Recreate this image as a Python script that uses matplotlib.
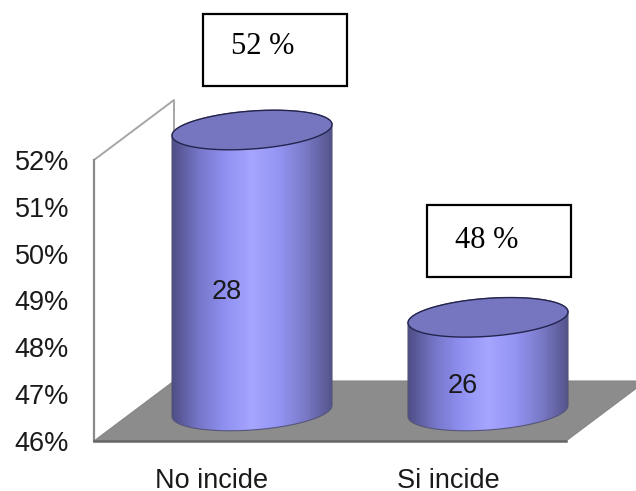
import numpy as np
import matplotlib
matplotlib.use("Agg")
import matplotlib.pyplot as plt
from matplotlib.colors import LinearSegmentedColormap
from matplotlib.patches import Polygon, Rectangle

categories = ["No incide", "Si incide"]
percents = [52, 48]
counts = [28, 26]
y_ticks = [46, 47, 48, 49, 50, 51, 52]

W, H = 636, 491
Y_MIN, Y_MAX = 46, 52

fig = plt.figure(figsize=(W / 100, H / 100), dpi=100, facecolor="white")
ax = fig.add_axes([94 / W, 1 - 441 / H, 472 / W, 281 / H])
ax.set_xlim(-0.5, 1.5)
ax.set_ylim(Y_MIN, Y_MAX)

# px -> data units, the fake 3d is all built from these
ux = 2 / 472
uy = (Y_MAX - Y_MIN) / 281
depth_x = 80 * ux
depth_y = 60 * uy

sans = "Liberation Sans"
serif = "Liberation Serif"

for s in ax.spines.values():
    s.set_visible(False)
ax.patch.set_visible(False)
ax.set_xticks(range(len(categories)), categories, fontfamily=sans, fontsize=19.5)
ax.set_yticks(y_ticks, [f"{t}%" for t in y_ticks], fontfamily=sans, fontsize=19.5)
ax.tick_params(axis="x", length=0, pad=19.5, colors="#1a1a1a")
ax.tick_params(axis="y", length=0, pad=18, colors="#1a1a1a")

# floor
x0, x1 = ax.get_xlim()
floor = [(x0, Y_MIN), (x1, Y_MIN), (x1 + depth_x, Y_MIN + depth_y), (x0 + depth_x, Y_MIN + depth_y)]
ax.add_patch(Polygon(floor, closed=True, fc="#8c8c8c", ec="#858585", lw=0.8, clip_on=False, zorder=1))
ax.plot([x0, x1], [Y_MIN, Y_MIN], color="#666666", lw=1.8, clip_on=False, zorder=1.1)

# side wall outline
ax.plot([x0, x0, x0 + depth_x, x0 + depth_x],
        [Y_MIN, Y_MAX, Y_MAX + depth_y, Y_MIN + depth_y],
        color="#a6a6a6", lw=1.4, clip_on=False, zorder=0.5)
ax.plot([x0, x0], [Y_MIN, Y_MAX], color="#8a8a8a", lw=1.6, clip_on=False, zorder=0.6)

cyl_cmap = LinearSegmentedColormap.from_list(
    "cyl", ["#4e4e86", "#7676c8", "#9090f2", "#a6a6ff", "#9494f4", "#7a7ac8", "#54548c"])
shade = np.linspace(0, 1, 256).reshape(1, -1)

half_w = 80 * ux
tilt = 5.5 * uy
half_h = 19 * uy
t = np.linspace(0, 2 * np.pi, 200)


def rim(cx, cy, a):
    return cx + half_w * np.cos(a), cy + tilt * np.cos(a) + half_h * np.sin(a)


for i, (p, n) in enumerate(zip(percents, counts)):
    cx = i + depth_x / 2
    top_y = p + depth_y / 2
    base_y = Y_MIN + depth_y / 2

    # body: lower half of the base rim plus the top rim
    lo = np.linspace(np.pi, 2 * np.pi, 100)
    hi = np.linspace(0, np.pi, 100)
    bx, by = rim(cx, base_y, lo)
    tx, ty = rim(cx, top_y, hi)
    outline = Polygon(np.column_stack([np.r_[bx, tx], np.r_[by, ty]]), closed=True,
                      fc="none", ec="#55557a", lw=0.8, clip_on=False, zorder=3)
    ax.add_patch(outline)
    im = ax.imshow(shade, cmap=cyl_cmap, aspect="auto", zorder=2, interpolation="bilinear",
                   extent=[cx - half_w, cx + half_w, base_y - 2 * half_h, top_y + 2 * half_h])
    im.set_clip_path(outline)
    im.set_clip_box(fig.bbox)

    # top face
    ex, ey = rim(cx, top_y, t)
    ax.add_patch(Polygon(np.column_stack([ex, ey]), closed=True, fc="#7676c0", ec="#24244e",
                         lw=1.0, clip_on=False, zorder=4))

    # count inside the cylinder
    ax.text(i + 15 * ux, (p + Y_MIN) / 2 + 8.5 * uy, str(n), ha="center", va="center",
            fontfamily=sans, fontsize=19.5, color="#1a1a1a", zorder=5)

ax.set_xlim(x0, x1)
ax.set_ylim(Y_MIN, Y_MAX)

# percent boxes, placed in figure pixels
boxes = [(203, 14), (427, 205)]
text_x = [263, 487]
text_dy = [32, 35]
for (bx0, by0), tx0, dy, p in zip(boxes, text_x, text_dy, percents):
    fig.add_artist(Rectangle((bx0 / W, 1 - (by0 + 72) / H), 144 / W, 72 / H,
                             transform=fig.transFigure, fc="white", ec="black", lw=1.6))
    fig.text(tx0 / W, 1 - (by0 + dy) / H, f"{p} %", ha="center", va="center",
             fontfamily=serif, fontsize=22, color="black")

fig.savefig("out.png", dpi=100)
